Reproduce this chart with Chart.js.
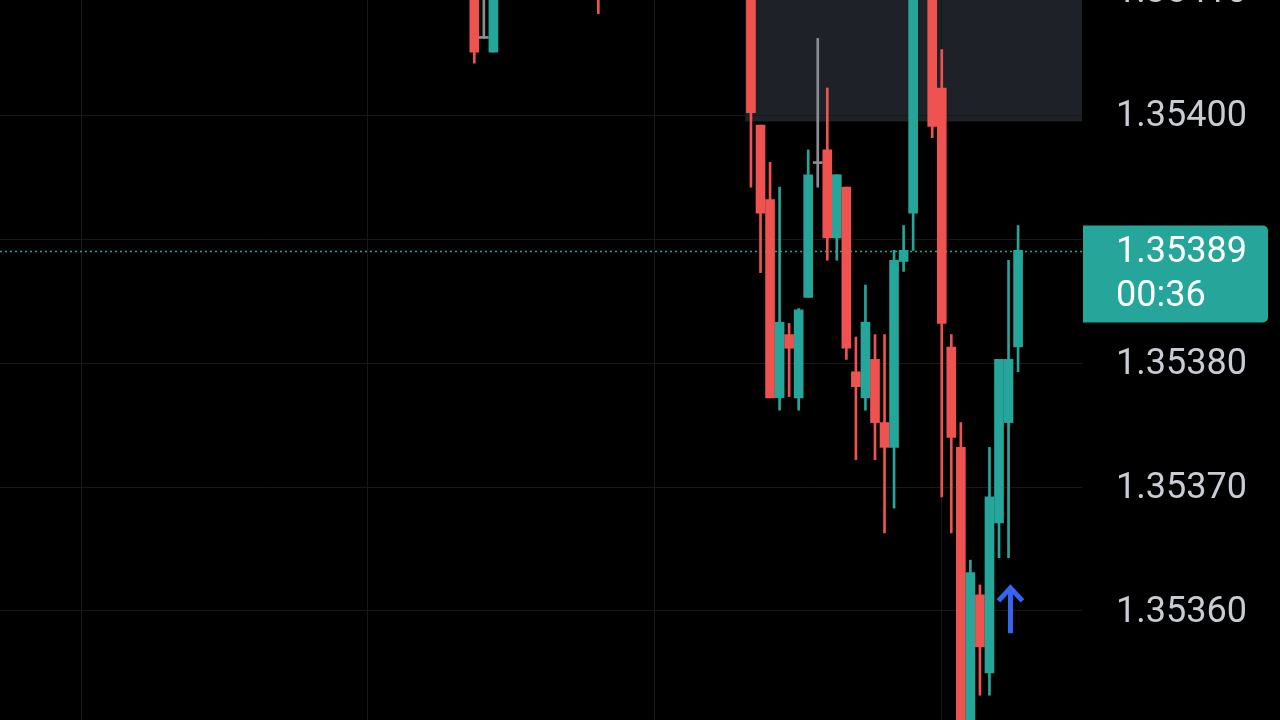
<!DOCTYPE html>
<html>
<head>
<meta charset="utf-8">
<script src="https://cdn.jsdelivr.net/npm/chart.js@4.4.1/dist/chart.umd.min.js"></script>
<style>
html,body{margin:0;padding:0;background:#000;}
#wrap{width:1280px;height:720px;background:#000;}
canvas{display:block;}
</style>
</head>
<body>
<div id="wrap"><canvas id="c" width="1280" height="720"></canvas></div>
<script>
// ---- data ----
const slots  = [50,51,52,63,79,80,81,82,83,84,85,86,87,88,89,90,91,92,93,94,95,96,98,99,100,101,102,103,104,105,106,107];
const opens  = [1.35418,1.354062,1.354051,1.35420,1.35416,1.353992,1.353932,1.353772,1.353823,1.353772,1.353853,1.353961,1.353972,1.353901,1.353942,1.353793,1.353772,1.353803,1.353752,1.353732,1.353882,1.353921,1.35418,1.354022,1.353813,1.353732,1.35346,1.353613,1.353550,1.353671,1.353752,1.353813];
const highs  = [1.35420,1.35420,1.35420,1.35422,1.35418,1.353992,1.353962,1.353942,1.353832,1.353844,1.353972,1.354062,1.354022,1.353952,1.353942,1.353821,1.353863,1.353823,1.353823,1.353891,1.353911,1.35418,1.35420,1.354053,1.353823,1.353752,1.353641,1.353621,1.353732,1.353803,1.353883,1.353911];
const lows   = [1.354042,1.354062,1.354051,1.354082,1.353942,1.353873,1.353772,1.353762,1.353773,1.353762,1.353853,1.353942,1.353883,1.353883,1.353803,1.353722,1.353762,1.353722,1.353663,1.353683,1.353874,1.353891,1.353982,1.353692,1.353663,1.35344,1.35344,1.353532,1.353532,1.353643,1.353643,1.353793];
const closes = [1.354051,1.354062,1.35418,1.35412,1.354002,1.353921,1.353772,1.353833,1.353812,1.353843,1.353952,1.353961,1.353901,1.353952,1.353812,1.353781,1.353833,1.353752,1.353732,1.353883,1.353891,1.35416,1.353991,1.353832,1.353740,1.35345,1.353631,1.353571,1.353692,1.353803,1.353803,1.353891];
const yTickValues = [1.35360,1.35370,1.35380,1.35390,1.35400,1.35410];
const xGridValues = [8.8,38.8,68.9,99];
const lastPrice = 1.35389;
const lastPriceText = "1.35389";
const countdownText = "00:36";
const zoneFrom = 78.4, zoneBottom = 1.353995;
const arrowSlot = 106.2, arrowTip = 1.353621, arrowTail = 1.353582;

// ---- view ----
const X_MIN = 0.28, X_MAX = 113.7, Y_MIN = 1.353512, Y_MAX = 1.354093;
const UP = '#26a69a', DOWN = '#ef5350', FLAT = '#8a8e98';
const LABEL_FONT = '36px Roboto', LABEL_COLOR = '#c9ccd3';

const colorOf = (i) => closes[i] > opens[i] ? UP : (closes[i] < opens[i] ? DOWN : FLAT);
const bodyData = slots.map((s,i)=>({x:s, y:[opens[i], closes[i]]}));
const wickData = slots.map((s,i)=>({x:s, y:[lows[i], highs[i]]}));
const colors = slots.map((s,i)=>colorOf(i));

const overlay = {
  id:'overlay',
  beforeDraw(chart){
    const {ctx, chartArea, scales:{x,y}} = chart;
    ctx.save();
    const x0 = x.getPixelForValue(zoneFrom);
    const yb = y.getPixelForValue(zoneBottom);
    ctx.fillStyle = '#1e2127';
    ctx.fillRect(x0, 0, chartArea.right - x0, yb);
    ctx.restore();
  },
  afterDraw(chart){
    const {ctx, chartArea, scales:{x,y}} = chart;
    ctx.save();
    // partially visible top tick label (above the plotted range)
    const topTick = yTickValues[yTickValues.length-1];
    ctx.fillStyle = LABEL_COLOR;
    ctx.font = LABEL_FONT;
    ctx.textAlign = 'left';
    ctx.textBaseline = 'middle';
    ctx.fillText(topTick.toFixed(5), 1116, y.getPixelForValue(topTick) + 2);
    // arrow
    const ax = x.getPixelForValue(arrowSlot);
    const ty = y.getPixelForValue(arrowTip);
    const by = y.getPixelForValue(arrowTail);
    ctx.strokeStyle = '#3466f2';
    ctx.lineWidth = 5;
    ctx.lineCap = 'butt';
    ctx.lineJoin = 'miter';
    ctx.beginPath();
    ctx.moveTo(ax, ty+4); ctx.lineTo(ax, by);
    ctx.stroke();
    ctx.beginPath();
    ctx.moveTo(ax-12, ty+16); ctx.lineTo(ax, ty+3); ctx.lineTo(ax+12, ty+16);
    ctx.stroke();
    // price label
    const py = y.getPixelForValue(lastPrice);
    const bx = chartArea.right + 1, bw = 185, btop = py - 26, bh = 97;
    ctx.fillStyle = '#26a69a';
    ctx.beginPath();
    if (ctx.roundRect) ctx.roundRect(bx, btop, bw, bh, [0,5,5,0]); else ctx.rect(bx, btop, bw, bh);
    ctx.fill();
    ctx.fillStyle = '#ffffff';
    ctx.font = LABEL_FONT;
    ctx.fillText(lastPriceText, 1116, py + 1);
    ctx.fillText(countdownText, 1116, py + 45);
    ctx.restore();
  }
};

new Chart(document.getElementById('c'), {
  type:'bar',
  data:{
    datasets:[
      {type:'line', data:[{x:X_MIN,y:lastPrice},{x:X_MAX,y:lastPrice}], borderColor:'#26a69a', borderWidth:1.5, borderDash:[2,3], pointRadius:0, order:3},
      {data:wickData, backgroundColor:colors, barThickness:2, grouped:false, borderWidth:0, order:2},
      {data:bodyData, backgroundColor:colors, barThickness:9, grouped:false, borderWidth:0, minBarLength:2, order:1}
    ]
  },
  options:{
    responsive:false, animation:false, devicePixelRatio:1,
    layout:{padding:0},
    plugins:{legend:{display:false}, tooltip:{enabled:false}},
    scales:{
      x:{type:'linear', min:X_MIN, max:X_MAX, position:'bottom', offset:false, bounds:'data',
        grid:{color:'#16181b', drawTicks:false, lineWidth:1, offset:false},
        border:{display:false},
        ticks:{display:false},
        afterBuildTicks:(s)=>{s.ticks = xGridValues.map(v=>({value:v}));},
        afterFit:(s)=>{s.height = 0; s.paddingLeft = 0; s.paddingRight = 0; s.paddingTop = 0; s.paddingBottom = 0;}
      },
      y:{type:'linear', position:'right', min:Y_MIN, max:Y_MAX, bounds:'data',
        grid:{color:'#16181b', drawTicks:false, lineWidth:1},
        border:{display:false},
        ticks:{autoSkip:false, padding:34, labelOffset:2, color:LABEL_COLOR, font:{family:'Roboto', size:36},
          callback:(v)=> (Math.abs(v-lastPrice) < 0.00002 || v > Y_MAX) ? '' : Number(v).toFixed(5)},
        afterBuildTicks:(s)=>{s.ticks = yTickValues.map(v=>({value:v}));},
        afterFit:(s)=>{s.width = 198; s.paddingTop = 0; s.paddingBottom = 0; s.paddingLeft = 0; s.paddingRight = 0;}
      }
    }
  },
  plugins:[overlay]
});
</script>
</body>
</html>
